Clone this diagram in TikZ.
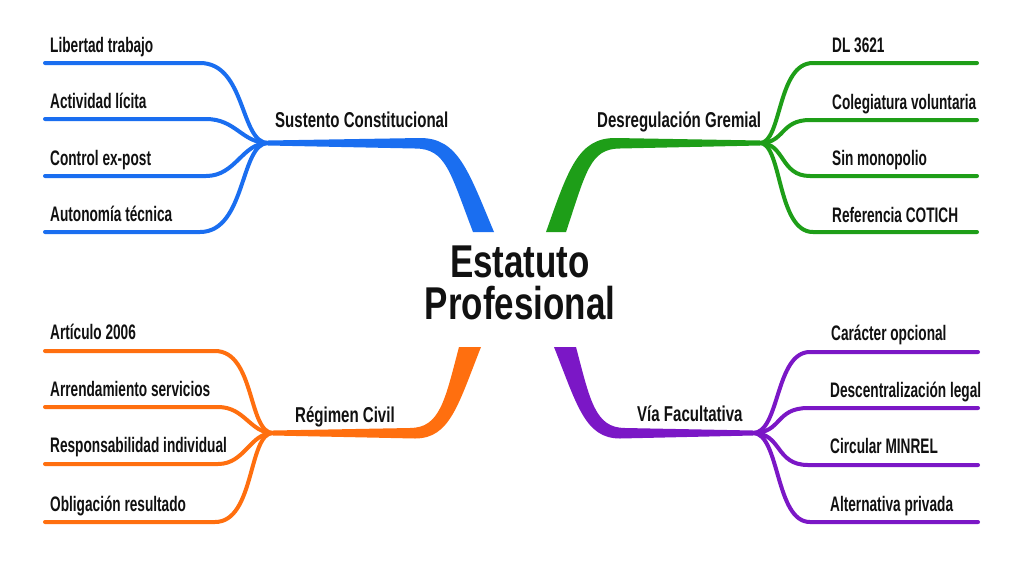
\documentclass[tikz,border=0pt]{standalone}
\usepackage{fontspec}
\setmainfont{Liberation Sans}
\newfontfamily\leaffont{Liberation Sans}[FakeStretch=0.65]
\newfontfamily\midfont{Liberation Sans}[FakeStretch=0.70]
\newfontfamily\titlefont{Liberation Sans}[FakeStretch=0.76]
\definecolor{cblue}{HTML}{1A6EF0}
\definecolor{cgreen}{HTML}{1E9E18}
\definecolor{corange}{HTML}{FF6F0F}
\definecolor{cpurple}{HTML}{7B17C6}
\definecolor{ink}{HTML}{111111}
\tikzset{
  leaf/.style={anchor=base west, inner sep=0pt, text=ink, font=\leaffont\bfseries\fontsize{21}{25}\selectfont},
  midlabel/.style={anchor=base west, inner sep=0pt, text=ink, font=\midfont\bfseries\fontsize{21.5}{25}\selectfont},
  titlelabel/.style={anchor=base, inner sep=0pt, text=ink, font=\titlefont\bfseries\fontsize{46}{50}\selectfont},
  twig/.style={line width=4pt, line cap=round},
}
\begin{document}
\begin{tikzpicture}[x=1pt,y=-1pt]
\useasboundingbox (0,0) rectangle (1024,576);
\fill[white] (0,0) rectangle (1024,576);

% ---- main branches (tapered) ----
\fill[cblue] (494,232) .. controls (468,170) and (458,138) .. (420,138) -- (268,140.5)
  -- (268,145.5) -- (415,148.5) .. controls (446,148.5) and (450,172) .. (473,232) -- cycle;
\fill[cgreen] (546,232) .. controls (568,170) and (578,138) .. (615,138) -- (760,140.5)
  -- (760,145.5) -- (620,148.5) .. controls (590,148.5) and (586,172) .. (566,232) -- cycle;
\fill[corange] (481,347) .. controls (458,405) and (450,438.5) .. (415,438.5) -- (273,435.5)
  -- (273,430.5) -- (410,428) .. controls (440,428) and (445,400) .. (459,347) -- cycle;
\fill[cpurple] (554,347) .. controls (577,405) and (585,438.5) .. (620,438.5) -- (753,435.5)
  -- (753,430.5) -- (625,428) .. controls (595,428) and (590,400) .. (576,347) -- cycle;

% ---- hubs ----
\coordinate (hB) at (268,143);
\coordinate (hG) at (760,143);
\coordinate (hO) at (273,433);
\coordinate (hP) at (753,433);

% ---- blue twigs ----
\foreach \n/\y/\e/\ca/\cb in {1/63/200/240/246, 2/119/206/242/236, 3/176/206/242/236, 4/232/200/240/246}{
  \coordinate (B\n) at (\e,\y);
  \coordinate (Bx\n) at (45,\y);
  \draw[twig, cblue] (hB) .. controls (\ca,143) and (\cb,\y) .. (B\n) -- (Bx\n);
}
% ---- green twigs ----
\foreach \n/\y/\e/\ca/\cb in {1/63/813/782/777, 2/120/810/785/780, 3/176/810/785/780, 4/232/813/782/777}{
  \coordinate (G\n) at (\e,\y);
  \coordinate (Gx\n) at (977,\y);
  \draw[twig, cgreen] (hG) .. controls (\ca,143) and (\cb,\y) .. (G\n) -- (Gx\n);
}
% ---- orange twigs ----
\foreach \n/\y/\e/\ca/\cb in {1/351/215/248/255, 2/407/218/250/245, 3/464/218/250/245, 4/522/215/248/255}{
  \coordinate (O\n) at (\e,\y);
  \coordinate (Ox\n) at (45,\y);
  \draw[twig, corange] (hO) .. controls (\ca,433) and (\cb,\y) .. (O\n) -- (Ox\n);
}
% ---- purple twigs ----
\foreach \n/\y/\e/\ca/\cb in {1/352/810/780/775, 2/408/808/782/775, 3/465/808/782/775, 4/522/810/780/775}{
  \coordinate (P\n) at (\e,\y);
  \coordinate (Px\n) at (978,\y);
  \draw[twig, cpurple] (hP) .. controls (\ca,433) and (\cb,\y) .. (P\n) -- (Px\n);
}

% ---- title ----
\node[titlelabel] (t1) at (520,277) {Estatuto};
\node[titlelabel] (t2) at (520,319) {Profesional};

% ---- branch labels ----
\node[midlabel] (mB) at (275,127) {Sustento Constitucional};
\node[midlabel] (mG) at (597,127) {Desregulación Gremial};
\node[midlabel] (mO) at (295,422) {Régimen Civil};
\node[midlabel] (mP) at (637,421) {Vía Facultativa};

% ---- leaf labels ----
\node[leaf] (b1) at (50,52.5) {Libertad trabajo};
\node[leaf] (b2) at (50,108.5) {Actividad lícita};
\node[leaf] (b3) at (50,165) {Control ex-post};
\node[leaf] (b4) at (50,221.5) {Autonomía técnica};

\node[leaf] (g1) at (832,52.5) {DL 3621};
\node[leaf] (g2) at (832,109) {Colegiatura voluntaria};
\node[leaf] (g3) at (832,165.5) {Sin monopolio};
\node[leaf] (g4) at (832,222) {Referencia COTICH};

\node[leaf] (o1) at (50,339.5) {Artículo 2006};
\node[leaf] (o2) at (50,396) {Arrendamiento servicios};
\node[leaf] (o3) at (50,452.5) {Responsabilidad individual};
\node[leaf] (o4) at (50,511) {Obligación resultado};

\node[leaf] (p1) at (831,340) {Carácter opcional};
\node[leaf] (p2) at (830,397) {Descentralización legal};
\node[leaf] (p3) at (830,453.5) {Circular MINREL};
\node[leaf] (p4) at (830,511.5) {Alternativa privada};
\end{tikzpicture}
\end{document}
